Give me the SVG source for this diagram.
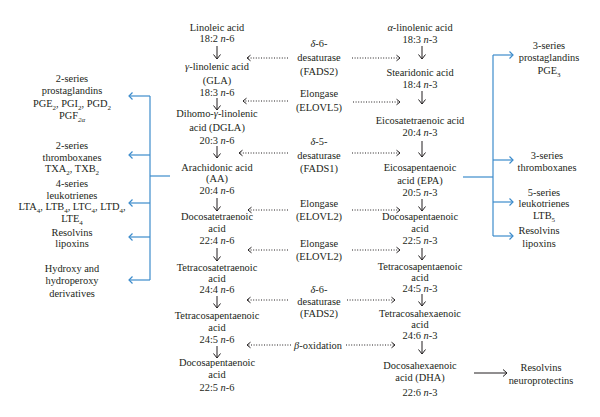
<svg xmlns="http://www.w3.org/2000/svg" width="600" height="417" viewBox="0 0 600 417">
<style>
.t{font-family:"Liberation Serif","Times New Roman",serif;font-size:10.4px;fill:#231f20;text-anchor:middle}
.i{font-style:italic}
.sb{font-size:7px;baseline-shift:-2.5px}
.dn{stroke:#231f20;stroke-width:1;fill:none;marker-end:url(#ah)}
.dt{stroke:#231f20;stroke-width:1;fill:none;stroke-dasharray:1 1.6;marker-end:url(#dh)}
.bl{stroke:#3d8ccc;stroke-width:1.2;fill:none}
.ba{stroke:#3d8ccc;stroke-width:1.2;fill:none;marker-end:url(#bh)}
.bk{stroke:#231f20;stroke-width:1;fill:none;marker-end:url(#kh)}
</style>
<defs>
<marker id="ah" markerUnits="userSpaceOnUse" markerWidth="10" markerHeight="10" refX="0" refY="0" orient="auto" overflow="visible"><path d="M-4.5,-3.5 L0,0 L-4.5,3.5" fill="none" stroke="#231f20" stroke-width="1"/></marker>
<marker id="dh" markerUnits="userSpaceOnUse" markerWidth="10" markerHeight="10" refX="0" refY="0" orient="auto" overflow="visible"><path d="M-3.5,-2.8 L0,0 L-3.5,2.8" fill="none" stroke="#231f20" stroke-width="1"/></marker>
<marker id="bh" markerUnits="userSpaceOnUse" markerWidth="10" markerHeight="10" refX="0" refY="0" orient="auto" overflow="visible"><path d="M-3.5,-3.5 L0,0 L-3.5,3.5" fill="none" stroke="#3d8ccc" stroke-width="1.2"/></marker>
<marker id="kh" markerUnits="userSpaceOnUse" markerWidth="10" markerHeight="10" refX="0" refY="0" orient="auto" overflow="visible"><path d="M-4,-3.5 L0,0 L-4,3.5" fill="none" stroke="#231f20" stroke-width="1"/></marker>
</defs>
<rect width="600" height="417" fill="#fff"/>

<!-- n-6 column -->
<g id="n6-linoleic" class="t"><text x="217" y="30.5">Linoleic acid</text><text x="217" y="42">18:2 <tspan class="i">n</tspan>-6</text></g>
<g id="n6-gla" class="t"><text x="217" y="69.5"><tspan class="i">γ</tspan>-linolenic acid</text><text x="217" y="83.5">(GLA)</text><text x="217" y="96">18:3 <tspan class="i">n</tspan>-6</text></g>
<g id="n6-dgla" class="t"><text x="217" y="116.5">Dihomo-<tspan class="i">γ</tspan>-linolenic</text><text x="217" y="130.5">acid (DGLA)</text><text x="217" y="143.5">20:3 <tspan class="i">n</tspan>-6</text></g>
<g id="n6-aa" class="t"><text x="217" y="170.5">Arachidonic acid</text><text x="217" y="182">(AA)</text><text x="217" y="193.5">20:4 <tspan class="i">n</tspan>-6</text></g>
<g id="n6-docosatetraenoic" class="t"><text x="217" y="219.5">Docosatetraenoic</text><text x="217" y="231.5">acid</text><text x="217" y="243.5">22:4 <tspan class="i">n</tspan>-6</text></g>
<g id="n6-tetracosatetraenoic" class="t"><text x="217" y="270.5">Tetracosatetraenoic</text><text x="217" y="281.5">acid</text><text x="217" y="292.5">24:4 <tspan class="i">n</tspan>-6</text></g>
<g id="n6-tetracosapentaenoic" class="t"><text x="217" y="318.5">Tetracosapentaenoic</text><text x="217" y="330.5">acid</text><text x="217" y="342.5">24:5 <tspan class="i">n</tspan>-6</text></g>
<g id="n6-docosapentaenoic" class="t"><text x="217" y="365.5">Docosapentaenoic</text><text x="217" y="377.5">acid</text><text x="217" y="390.5">22:5 <tspan class="i">n</tspan>-6</text></g>

<!-- n-3 column -->
<g id="n3-ala" class="t"><text x="420" y="30.5"><tspan class="i">α</tspan>-linolenic acid</text><text x="420" y="42.5">18:3 <tspan class="i">n</tspan>-3</text></g>
<g id="n3-stearidonic" class="t"><text x="420" y="75.5">Stearidonic acid</text><text x="420" y="88">18:4 <tspan class="i">n</tspan>-3</text></g>
<g id="n3-eicosatetraenoic" class="t"><text x="420" y="123.5">Eicosatetraenoic acid</text><text x="420" y="135.5">20:4 <tspan class="i">n</tspan>-3</text></g>
<g id="n3-epa" class="t"><text x="420" y="170.5">Eicosapentaenoic</text><text x="420" y="183.5">acid (EPA)</text><text x="420" y="195.5">20:5 <tspan class="i">n</tspan>-3</text></g>
<g id="n3-docosapentaenoic" class="t"><text x="420" y="219.5">Docosapentaenoic</text><text x="420" y="231.5">acid</text><text x="420" y="243.5">22:5 <tspan class="i">n</tspan>-3</text></g>
<g id="n3-tetracosapentaenoic" class="t"><text x="420" y="269.5">Tetracosapentaenoic</text><text x="420" y="280.5">acid</text><text x="420" y="291.5">24:5 <tspan class="i">n</tspan>-3</text></g>
<g id="n3-tetracosahexaenoic" class="t"><text x="420" y="316.5">Tetracosahexaenoic</text><text x="420" y="327.5">acid</text><text x="420" y="338.5">24:6 <tspan class="i">n</tspan>-3</text></g>
<g id="n3-dha" class="t"><text x="420" y="368.5">Docosahexaenoic</text><text x="420" y="380.5">acid (DHA)</text><text x="420" y="395.5">22:6 <tspan class="i">n</tspan>-3</text></g>

<!-- enzymes -->
<g id="enz-fads2-a" class="t"><text x="319" y="46.5"><tspan class="i">δ</tspan>-6-</text><text x="319" y="60.5">desaturase</text><text x="319" y="74.5">(FADS2)</text></g>
<g id="enz-elovl5" class="t"><text x="319" y="96.5">Elongase</text><text x="319" y="110.5">(ELOVL5)</text></g>
<g id="enz-fads1" class="t"><text x="319" y="144.5"><tspan class="i">δ</tspan>-5-</text><text x="319" y="158.5">desaturase</text><text x="319" y="171.5">(FADS1)</text></g>
<g id="enz-elovl2-a" class="t"><text x="319" y="206.5">Elongase</text><text x="319" y="219.5">(ELOVL2)</text></g>
<g id="enz-elovl2-b" class="t"><text x="319" y="246.5">Elongase</text><text x="319" y="259.5">(ELOVL2)</text></g>
<g id="enz-fads2-b" class="t"><text x="319" y="292.5"><tspan class="i">δ</tspan>-6-</text><text x="319" y="304.5">desaturase</text><text x="319" y="316.5">(FADS2)</text></g>
<g id="enz-betaox" class="t"><text x="318" y="348.5"><tspan class="i">β</tspan>-oxidation</text></g>

<!-- left products -->
<g id="l-prostaglandins" class="t"><text x="72" y="81.5">2-series</text><text x="72" y="93.5">prostaglandins</text><text x="72" y="106.5">PGE<tspan class="sb">2</tspan>, PGI<tspan class="sb">2</tspan>, PGD<tspan class="sb">2</tspan></text><text x="72" y="118.5">PGF<tspan class="sb"><tspan class="i">2α</tspan></tspan></text></g>
<g id="l-thromboxanes" class="t"><text x="72" y="148.5">2-series</text><text x="72" y="160.5">thromboxanes</text><text x="72" y="171.5">TXA<tspan class="sb">2</tspan>, TXB<tspan class="sb">2</tspan></text></g>
<g id="l-leukotrienes" class="t"><text x="72" y="186.5">4-series</text><text x="72" y="198.5">leukotrienes</text><text x="72" y="209.5">LTA<tspan class="sb">4</tspan>, LTB<tspan class="sb">4</tspan>, LTC<tspan class="sb">4</tspan>, LTD<tspan class="sb">4</tspan>,</text><text x="72" y="221.5">LTE<tspan class="sb">4</tspan></text></g>
<g id="l-resolvins" class="t"><text x="72" y="235.5">Resolvins</text><text x="72" y="246.5">lipoxins</text></g>
<g id="l-hydroxy" class="t"><text x="72" y="271.5">Hydroxy and</text><text x="72" y="283.5">hydroperoxy</text><text x="72" y="296.5">derivatives</text></g>

<!-- right products -->
<g id="r-prostaglandins" class="t"><text x="549" y="48.5">3-series</text><text x="549" y="60.5">prostaglandins</text><text x="549" y="73.5">PGE<tspan class="sb">3</tspan></text></g>
<g id="r-thromboxanes" class="t"><text x="547" y="158.5">3-series</text><text x="547" y="170.5">thromboxanes</text></g>
<g id="r-leukotrienes" class="t"><text x="544" y="195.5">5-series</text><text x="544" y="206.5">leukotrienes</text><text x="544" y="218.5">LTB<tspan class="sb">5</tspan></text></g>
<g id="r-resolvins" class="t"><text x="539" y="233.5">Resolvins</text><text x="539" y="246.5">lipoxins</text></g>
<g id="r-neuroprotectins" class="t"><text x="541" y="370.5">Resolvins</text><text x="541" y="383.5">neuroprotectins</text></g>

<g id="connectors">
<!-- n-6 down arrows -->
<line class="dn" x1="217" y1="46" x2="217" y2="59"/>
<line class="dn" x1="217" y1="98" x2="217" y2="110"/>
<line class="dn" x1="217" y1="146" x2="217" y2="158"/>
<line class="dn" x1="217" y1="198" x2="217" y2="211"/>
<line class="dn" x1="217" y1="248" x2="217" y2="261"/>
<line class="dn" x1="217" y1="296" x2="217" y2="308"/>
<line class="dn" x1="217" y1="346" x2="217" y2="358"/>
<!-- n-3 down arrows -->
<line class="dn" x1="422" y1="46" x2="422" y2="59"/>
<line class="dn" x1="422" y1="91" x2="422" y2="104"/>
<line class="dn" x1="422" y1="141" x2="422" y2="157"/>
<line class="dn" x1="422" y1="199" x2="422" y2="211"/>
<line class="dn" x1="422" y1="248" x2="422" y2="260"/>
<line class="dn" x1="422" y1="294" x2="422" y2="306"/>
<line class="dn" x1="422" y1="341" x2="422" y2="354"/>
<!-- dotted enzyme arrows -->
<line class="dt" x1="288" y1="58" x2="247" y2="58"/>
<line class="dt" x1="352" y1="58" x2="400" y2="58"/>
<line class="dt" x1="288" y1="101" x2="243" y2="101"/>
<line class="dt" x1="353" y1="102" x2="400" y2="102"/>
<line class="dt" x1="288" y1="153" x2="239" y2="153"/>
<line class="dt" x1="352" y1="153" x2="400" y2="153"/>
<line class="dt" x1="288" y1="210" x2="248" y2="210"/>
<line class="dt" x1="352" y1="210" x2="400" y2="210"/>
<line class="dt" x1="288" y1="250" x2="248" y2="250"/>
<line class="dt" x1="352" y1="250" x2="400" y2="250"/>
<line class="dt" x1="288" y1="300" x2="247" y2="300"/>
<line class="dt" x1="347" y1="300" x2="395" y2="300"/>
<line class="dt" x1="291" y1="345" x2="247" y2="345"/>
<line class="dt" x1="346" y1="345" x2="395" y2="345"/>
<!-- left blue bracket -->
<line class="bl" x1="170" y1="176" x2="150" y2="176"/>
<line class="bl" x1="150" y1="96" x2="150" y2="280"/>
<line class="ba" x1="150" y1="96" x2="129" y2="96"/>
<line class="ba" x1="150" y1="155" x2="129" y2="155"/>
<line class="ba" x1="150" y1="203" x2="129" y2="203"/>
<line class="ba" x1="150" y1="237" x2="129" y2="237"/>
<line class="ba" x1="150" y1="280" x2="129" y2="280"/>
<!-- right blue bracket -->
<line class="bl" x1="463" y1="177" x2="493" y2="177"/>
<line class="bl" x1="493" y1="55" x2="493" y2="236"/>
<line class="ba" x1="493" y1="55" x2="513" y2="55"/>
<line class="ba" x1="493" y1="160" x2="513" y2="160"/>
<line class="ba" x1="493" y1="202" x2="513" y2="202"/>
<line class="ba" x1="493" y1="236" x2="513" y2="236"/>
<!-- DHA to resolvins -->
<line class="bk" x1="474" y1="373" x2="507" y2="373"/>
</g>
</svg>
